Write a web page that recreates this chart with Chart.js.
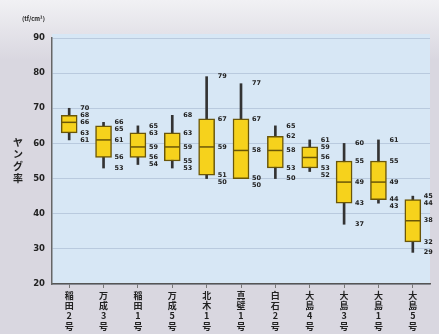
<!DOCTYPE html>
<html><head><meta charset="utf-8">
<script src="https://cdn.jsdelivr.net/npm/chart.js@4.4.1/dist/chart.umd.min.js"></script>
<style>html,body{margin:0;padding:0;background:#dad8e1;}canvas{display:block;}</style>
</head><body>
<canvas id="c" width="439" height="334"></canvas>
<script>
const categories = ['稲田2号','万成3号','稲田1号','万成5号','北木1号','真壁1号','白石2号','大島4号','大島3号','大島1号','大島5号'];
const maxV = [70,66,65,68,79,77,65,61,60,61,45];
const q3V  = [68,65,63,63,67,67,62,59,55,55,44];
const medV = [66,61,59,59,59,58,58,56,49,49,38];
const q1V  = [63,56,56,55,51,50,53,53,43,44,32];
const minV = [61,53,54,53,50,50,50,52,37,43,29];
const yTicks = [20,30,40,50,60,70,80,90];

const JP = '"Noto Sans CJK JP","Noto Sans",sans-serif';

const bgPlugin = {
  id:'bg',
  beforeDraw(chart){
    const {ctx, chartArea:a, width, height} = chart;
    ctx.save();
    const g = ctx.createLinearGradient(0,0,0,60);
    g.addColorStop(0,'#f1f1f4'); g.addColorStop(1,'#d9d7e0');
    ctx.fillStyle = g; ctx.fillRect(0,0,width,height);
    ctx.fillStyle = '#d7e7f5';
    ctx.fillRect(a.left, a.top-4, a.right-a.left, a.bottom-a.top+4);
    ctx.restore();
  },
  afterDraw(chart){
    const {ctx} = chart;
    ctx.save();
    ctx.fillStyle = '#222';
    ctx.font = 'bold 10px ' + JP;
    ctx.textAlign = 'center'; ctx.textBaseline = 'middle';
    const t = 'ヤング率';
    for (let i=0;i<t.length;i++) ctx.fillText(t[i], 18, 142 + i*12);
    ctx.font = 'bold 6px ' + JP;
    ctx.textAlign = 'left';
    ctx.fillText('(tf/cm²)', 22, 19);
    ctx.restore();
  }
};

const labelPlugin = {
  id:'vals',
  afterDatasetsDraw(chart){
    const {ctx, scales:{x,y}} = chart;
    ctx.save();
    ctx.fillStyle = '#222';
    ctx.font = 'bold 6.5px "DejaVu Sans",sans-serif';
    ctx.textAlign = 'left'; ctx.textBaseline = 'middle';
    categories.forEach((c,i)=>{
      const vals = [maxV[i],q3V[i],medV[i],q1V[i],minV[i]];
      let prev = -1e9;
      const px = x.getPixelForValue(i) + 11;
      vals.forEach(v=>{
        let py = y.getPixelForValue(v);
        if (py < prev + 7) py = prev + 7;
        prev = py;
        ctx.fillText(String(v), px, py);
      });
    });
    ctx.restore();
  }
};

new Chart(document.getElementById('c'), {
  data:{
    labels: categories.map(s=>s.split('')),
    datasets:[
      {type:'bar', data: categories.map((c,i)=>[minV[i],maxV[i]]), barThickness:2,
       backgroundColor:'#333', grouped:false, order:3},
      {type:'bar', data: categories.map((c,i)=>[q1V[i],q3V[i]]), barThickness:16,
       backgroundColor:'#f6d21c', borderColor:'#6a5608', borderWidth:1.5, borderSkipped:false,
       grouped:false, order:2},
      {type:'line', data: medV, showLine:false, pointStyle:'line', pointRadius:7.5,
       pointHoverRadius:7.5, pointBorderColor:'#6a5608', pointBorderWidth:1.5, order:1}
    ]
  },
  options:{
    responsive:false, animation:false,
    events:[],
    layout:{padding:{left:0,right:9,top:38,bottom:0}},
    plugins:{legend:{display:false}, tooltip:{enabled:false}},
    scales:{
      x:{
        offset:true,
        grid:{display:true, offset:false, drawOnChartArea:false, drawTicks:true, tickLength:4, color:'#777'},
        border:{display:true, color:'#555', width:1.5},
        ticks:{color:'#222', font:{family:JP, size:9, weight:'bold', lineHeight:1.15}, maxRotation:0, autoSkip:false, padding:2},
        afterFit(s){ s.height = 50; }
      },
      y:{
        min:20, max:90,
        afterBuildTicks(s){ s.ticks = yTicks.map(v=>({value:v})); },
        grid:{color:'rgba(130,150,180,0.35)', drawTicks:false, lineWidth:1},
        border:{display:true, color:'#666', width:1.5},
        ticks:{color:'#222', font:{family:'"DejaVu Sans",sans-serif', size:8.5, weight:'bold'}, padding:7},
        afterFit(s){ s.width = 52; }
      }
    }
  },
  plugins:[bgPlugin, labelPlugin]
});
</script>
</body></html>
